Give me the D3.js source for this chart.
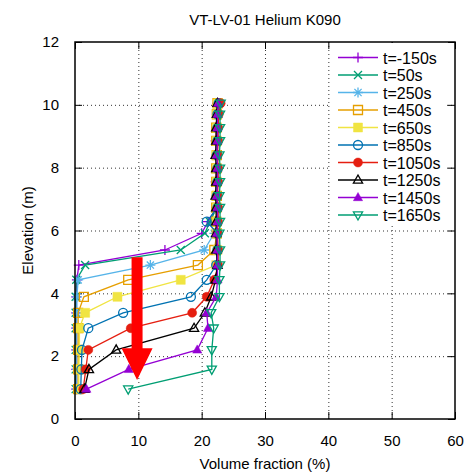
<!DOCTYPE html>
<html>
<head>
<meta charset="utf-8">
<script src="https://cdn.jsdelivr.net/npm/d3@7"></script>
<style>
  html, body { margin: 0; padding: 0; background: #fff; }
  svg { display: block; }
  text { font-family: "Liberation Sans", Arial, sans-serif; fill: #000; }
</style>
</head>
<body>
<div id="chart"></div>
<script>
// ---------------- DATA ----------------
const title = "VT-LV-01 Helium K090";
const xLabel = "Volume fraction (%)";
const yLabel = "Elevation (m)";
const xTicks = [0, 10, 20, 30, 40, 50, 60];
const yTicks = [0, 2, 4, 6, 8, 10, 12];

// sensor elevations (m), bottom to top
const elevation = [0.95, 1.58, 2.2, 2.89, 3.38, 3.89, 4.43, 4.9, 5.38, 5.91, 6.28, 6.73, 7.1, 7.55, 7.98, 8.4, 8.85, 9.27, 9.7, 10.05];

const seriesLabels = ["t=-150s", "t=50s", "t=250s", "t=450s", "t=650s", "t=850s", "t=1050s", "t=1250s", "t=1450s", "t=1650s"];

// helium volume fraction (%) at each elevation
const tm150  = [0.2, 0.2, 0.2, 0.2, 0.2, 0.2, 0.3, 0.6, 14.2, 20.0, 21.0, 22.3, 22.3, 22.2, 22.3, 22.3, 22.2, 22.3, 22.4, 22.5];
const t50    = [0.1, 0.1, 0.1, 0.1, 0.1, 0.1, 0.2, 1.6, 16.7, 20.5, 21.3, 22.4, 22.5, 22.4, 22.5, 22.5, 22.4, 22.5, 22.6, 22.7];
const t250   = [0.3, 0.3, 0.3, 0.3, 0.3, 0.3, 0.5, 11.9, 20.4, 22.0, 22.4, 22.4, 22.4, 22.5, 22.4, 22.4, 22.5, 22.4, 22.5, 22.6];
const t450   = [0.5, 0.5, 0.5, 0.5, 0.5, 1.4, 8.4, 19.4, 22.0, 22.4, 22.3, 22.3, 22.4, 22.3, 22.3, 22.4, 22.3, 22.3, 22.4, 22.5];
const t650   = [0.6, 0.6, 0.7, 0.7, 1.6, 6.7, 16.7, 22.3, 22.5, 22.4, 22.4, 22.4, 22.3, 22.4, 22.4, 22.3, 22.4, 22.4, 22.4, 22.6];
const t850   = [0.9, 1.0, 1.1, 2.1, 7.6, 18.3, 20.8, 22.3, 22.5, 22.5, 20.8, 22.5, 22.4, 22.5, 22.5, 22.4, 22.5, 22.5, 22.5, 22.7];
const t1050  = [1.3, 1.7, 2.1, 8.8, 18.5, 20.8, 22.0, 22.6, 22.6, 22.5, 22.6, 22.6, 22.5, 22.6, 22.6, 22.5, 22.6, 22.6, 22.7, 23.0];
const t1250  = [1.5, 2.2, 6.5, 18.8, 20.5, 21.5, 22.2, 22.5, 22.3, 22.3, 22.3, 22.3, 22.2, 22.3, 22.3, 22.2, 22.3, 22.3, 22.4, 22.5];
const t1450  = [1.8, 8.5, 19.3, 21.0, 20.8, 22.3, 22.5, 22.5, 22.5, 22.4, 22.5, 22.5, 22.4, 22.5, 22.5, 22.4, 22.5, 22.5, 22.5, 22.6];
const t1650  = [8.4, 21.6, 21.6, 21.9, 21.5, 22.8, 22.8, 22.9, 22.9, 22.8, 22.9, 22.9, 22.8, 22.9, 22.9, 22.8, 22.9, 22.9, 22.9, 23.0];

const seriesValues = [tm150, t50, t250, t450, t650, t850, t1050, t1250, t1450, t1650];

// annotation arrow (data coordinates): x (%), top of shaft, base of head, tip (m)
const arrowX = 9.8;
const arrowY = [5.15, 2.25, 1.24];

// ---------------- STYLE ----------------
const colors = ["#9400d3", "#009e73", "#56b4e9", "#e69f00", "#f0e442", "#0072b2", "#e51e10", "#000000", "#9400d3", "#009e73"];
const markers = ["plus", "cross", "star", "square", "squareFilled", "circle", "circleFilled", "triangle", "triangleFilled", "triangleDown"];

const W = 467, H = 474;
const margin = { left: 75, right: 12, top: 42, bottom: 55 };
const plotW = W - margin.left - margin.right;  // 380
const plotH = H - margin.top - margin.bottom;  // 377

const svg = d3.select("#chart").append("svg").attr("width", W).attr("height", H);
const g = svg.append("g").attr("transform", `translate(${margin.left},${margin.top})`);

const x = d3.scaleLinear().domain([0, 60]).range([0, plotW]);
const y = d3.scaleLinear().domain([0, 12]).range([plotH, 0]);

// grid (dotted)
const grid = g.append("g");
grid.selectAll(".gx").data(xTicks.slice(1, -1)).join("line")
  .attr("x1", d => x(d) + 0.5).attr("x2", d => x(d) + 0.5)
  .attr("y1", 0).attr("y2", plotH)
  .attr("stroke", "#333").attr("stroke-width", 1).attr("stroke-dasharray", "1,3");
grid.selectAll(".gy").data(yTicks.slice(1, -1)).join("line")
  .attr("x1", 0).attr("x2", plotW)
  .attr("y1", d => y(d) + 0.5).attr("y2", d => y(d) + 0.5)
  .attr("stroke", "#333").attr("stroke-width", 1).attr("stroke-dasharray", "1,3");

// axes with inward ticks
const tickLen = 7;
const xAxisB = d3.axisBottom(x).tickValues(xTicks).tickSize(-tickLen).tickPadding(tickLen + 9).tickFormat(d3.format("d"));
const xAxisT = d3.axisTop(x).tickValues(xTicks).tickSize(-tickLen).tickFormat("");
const yAxisL = d3.axisLeft(y).tickValues(yTicks).tickSize(-tickLen).tickPadding(tickLen + 9).tickFormat(d3.format("d"));
const yAxisR = d3.axisRight(y).tickValues(yTicks).tickSize(-tickLen).tickFormat("");

function styleAxis(sel) {
  sel.select(".domain").remove();
  sel.selectAll(".tick line").attr("stroke", "#000").attr("stroke-width", 1);
  sel.selectAll("text").style("font-family", "'Liberation Sans', Arial, sans-serif").style("font-size", "15px").attr("fill", "#000");
}
g.append("g").attr("transform", `translate(0,${plotH})`).call(xAxisB).call(styleAxis);
g.append("g").call(xAxisT).call(styleAxis);
g.append("g").call(yAxisL).call(styleAxis);
g.append("g").attr("transform", `translate(${plotW},0)`).call(yAxisR).call(styleAxis);

// marker path generator
function markerPath(type) {
  const s = 5, r = 4.5;
  switch (type) {
    case "plus": return `M${-s},0H${s}M0,${-s}V${s}`;
    case "cross": return `M${-4},${-4}L4,4M-4,4L4,-4`;
    case "star": return `M${-s},0H${s}M0,${-s}V${s}M-3.6,-3.6L3.6,3.6M-3.6,3.6L3.6,-3.6`;
    case "square": case "squareFilled": return `M${-r},${-r}H${r}V${r}H${-r}Z`;
    case "circle": case "circleFilled": return d3.arc()({innerRadius: 0, outerRadius: r, startAngle: 0, endAngle: 2 * Math.PI});
    case "triangle": case "triangleFilled": return `M0,-5L4.6,3.2L-4.6,3.2Z`;
    case "triangleDown": return `M0,5L4.6,-3.2L-4.6,-3.2Z`;
  }
}
function isFilled(type) { return /Filled$/.test(type); }

function drawMarker(sel, type, color) {
  sel.attr("d", markerPath(type))
    .attr("stroke", color)
    .attr("stroke-width", isFilled(type) ? 0.5 : 1.3)
    .attr("fill", isFilled(type) ? color : "none");
}

// series
const line = d3.line().x(d => x(d[0])).y(d => y(d[1]));
const plot = g.append("g");
seriesValues.forEach((vals, i) => {
  const pts = vals.map((v, k) => [v, elevation[k]]);
  const sg = plot.append("g");
  sg.append("path").datum(pts).attr("d", line)
    .attr("fill", "none").attr("stroke", colors[i]).attr("stroke-width", 1.3);
  sg.selectAll("path.m").data(pts).join("path").attr("class", "m")
    .attr("transform", d => `translate(${x(d[0])},${y(d[1])})`)
    .call(drawMarker, markers[i], colors[i]);
});

// red arrow annotation
const ax = x(arrowX);
const shaftHalf = 5.5, headHalf = 15.5;
const arrowPts = [
  [ax - shaftHalf, y(arrowY[0])], [ax + shaftHalf, y(arrowY[0])],
  [ax + shaftHalf, y(arrowY[1])], [ax + headHalf, y(arrowY[1])],
  [ax, y(arrowY[2])],
  [ax - headHalf, y(arrowY[1])], [ax - shaftHalf, y(arrowY[1])]
];
g.append("path").attr("d", "M" + arrowPts.map(p => p.join(",")).join("L") + "Z")
  .attr("fill", "#ff0000").attr("stroke", "none");

// legend (white box without border)
const legX = 255;
const legend = g.append("g");
legend.append("rect").attr("x", legX).attr("y", 1).attr("width", 117).attr("height", 182).attr("fill", "#fff");
seriesLabels.forEach((lab, i) => {
  const ly = 15.5 + i * 17.5;
  const lg = legend.append("g").attr("transform", `translate(${legX + 8},${ly})`);
  lg.append("line").attr("x1", 0).attr("x2", 40).attr("y1", 0).attr("y2", 0)
    .attr("stroke", colors[i]).attr("stroke-width", 1.3);
  lg.append("path").attr("transform", "translate(20,0)").call(drawMarker, markers[i], colors[i]);
  lg.append("text").attr("x", 45).attr("y", 6).style("font-size", "16px").text(lab);
});

// frame
g.append("rect").attr("x", 0).attr("y", 0).attr("width", plotW).attr("height", plotH)
  .attr("fill", "none").attr("stroke", "#000").attr("stroke-width", 1.5);

// titles
svg.append("text").attr("x", margin.left + plotW / 2).attr("y", 25).attr("text-anchor", "middle")
  .style("font-size", "15px").text(title);
svg.append("text").attr("x", margin.left + plotW / 2).attr("y", 469).attr("text-anchor", "middle")
  .style("font-size", "15px").text(xLabel);
svg.append("text").attr("transform", `translate(33,${margin.top + plotH / 2}) rotate(-90)`)
  .attr("text-anchor", "middle").style("font-size", "15px").text(yLabel);
</script>
</body>
</html>
